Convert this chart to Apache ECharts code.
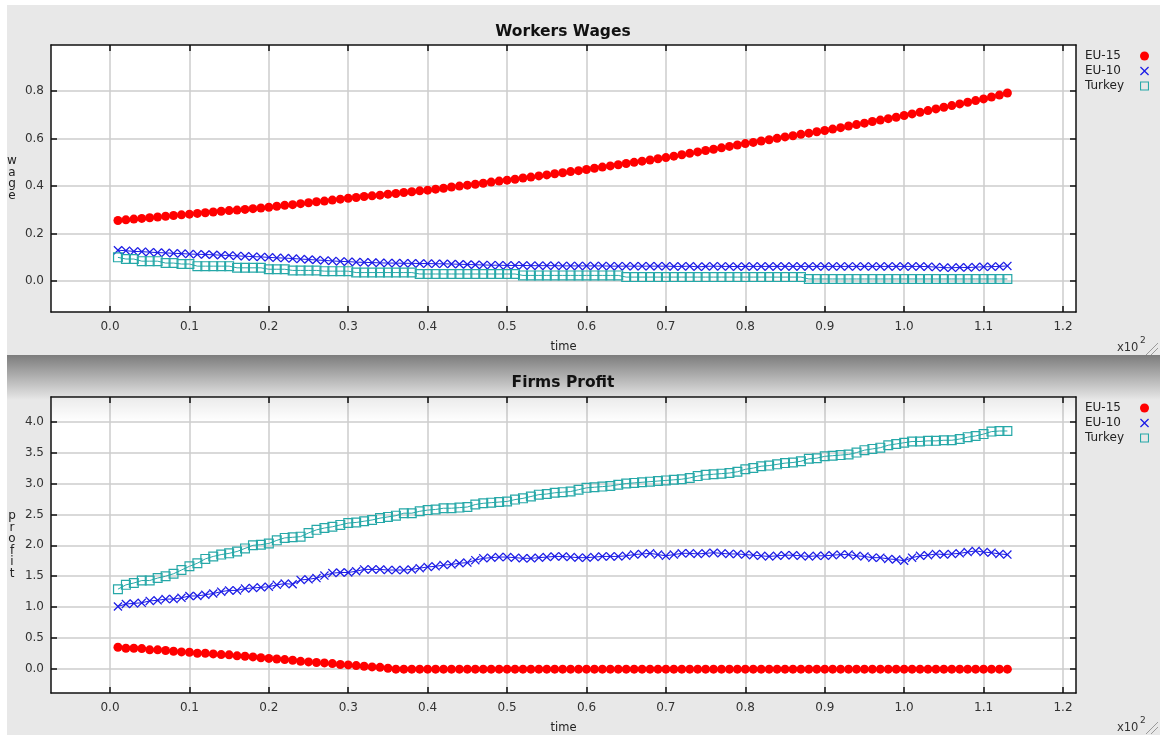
<!DOCTYPE html>
<html>
<head>
<meta charset="utf-8">
<title>Workers Wages / Firms Profit</title>
<script src="https://cdn.jsdelivr.net/npm/echarts@6/dist/echarts.min.js"></script>
<style>
  html, body { margin: 0; padding: 0; background: #fff; }
  #main { width: 1160px; height: 735px; }
</style>
</head>
<body>
<div id="main"></div>
<script>
// time steps 1..113, shown on the axis in units of 10^2
var time = [];
for (var t = 1; t <= 113; t++) time.push(t);

var seriesNames = ['EU-15', 'EU-10', 'Turkey'];
var xTicks = [0, 0.1, 0.2, 0.3, 0.4, 0.5, 0.6, 0.7, 0.8, 0.9, 1.0, 1.1, 1.2];
var wageTicks = [0, 0.2, 0.4, 0.6, 0.8];
var profitTicks = [0, 0.5, 1.0, 1.5, 2.0, 2.5, 3.0, 3.5, 4.0];

// Workers Wages
var wageEU15 = [
  0.255,0.258,0.261,0.264,0.267,0.270,0.273,0.276,0.279,0.282,
  0.285,0.288,0.291,0.294,0.297,0.299,0.302,0.305,0.308,0.311,
  0.315,0.319,0.322,0.326,0.330,0.334,0.337,0.341,0.345,0.349,
  0.352,0.356,0.359,0.362,0.366,0.369,0.373,0.376,0.380,0.383,
  0.387,0.391,0.396,0.400,0.404,0.408,0.412,0.417,0.421,0.425,
  0.429,0.434,0.438,0.443,0.447,0.452,0.456,0.461,0.465,0.470,
  0.475,0.480,0.485,0.490,0.495,0.500,0.505,0.510,0.515,0.520,
  0.526,0.532,0.538,0.544,0.550,0.555,0.561,0.567,0.573,0.579,
  0.584,0.590,0.595,0.601,0.607,0.612,0.618,0.623,0.629,0.634,
  0.640,0.646,0.653,0.659,0.665,0.672,0.678,0.684,0.690,0.697,
  0.704,0.711,0.718,0.725,0.732,0.739,0.746,0.753,0.760,0.767,
  0.775,0.783,0.792
];
var wageEU10 = [
  0.130,0.128,0.125,0.124,0.122,0.120,0.119,0.117,0.116,0.114,
  0.113,0.112,0.111,0.109,0.108,0.106,0.105,0.103,0.102,0.100,
  0.098,0.097,0.095,0.093,0.091,0.089,0.087,0.085,0.083,0.082,
  0.080,0.079,0.078,0.077,0.076,0.076,0.075,0.075,0.074,0.074,
  0.073,0.073,0.072,0.071,0.070,0.069,0.068,0.067,0.067,0.066,
  0.066,0.066,0.065,0.065,0.065,0.065,0.064,0.064,0.064,0.064,
  0.064,0.064,0.063,0.063,0.063,0.063,0.063,0.063,0.063,0.063,
  0.062,0.062,0.063,0.060,0.062,0.063,0.062,0.062,0.061,0.062,
  0.062,0.062,0.062,0.062,0.062,0.062,0.062,0.062,0.062,0.062,
  0.062,0.062,0.062,0.062,0.062,0.062,0.062,0.062,0.062,0.062,
  0.062,0.062,0.061,0.059,0.057,0.056,0.058,0.057,0.059,0.060,
  0.061,0.062,0.064
];
var wageTurkey = [
  0.100,0.093,0.093,0.084,0.084,0.084,0.076,0.076,0.072,0.072,
  0.063,0.063,0.063,0.063,0.063,0.056,0.056,0.056,0.056,0.050,
  0.050,0.050,0.045,0.045,0.045,0.045,0.042,0.042,0.042,0.042,
  0.036,0.036,0.036,0.036,0.036,0.036,0.036,0.036,0.030,0.030,
  0.030,0.030,0.030,0.030,0.030,0.030,0.030,0.030,0.030,0.030,
  0.030,0.024,0.024,0.024,0.024,0.024,0.024,0.024,0.024,0.024,
  0.024,0.024,0.024,0.024,0.017,0.017,0.017,0.017,0.017,0.017,
  0.017,0.017,0.017,0.017,0.017,0.017,0.017,0.017,0.017,0.017,
  0.017,0.017,0.017,0.017,0.017,0.017,0.017,0.009,0.009,0.009,
  0.009,0.009,0.009,0.009,0.009,0.009,0.009,0.009,0.009,0.009,
  0.009,0.009,0.009,0.009,0.009,0.009,0.009,0.009,0.009,0.009,
  0.009,0.009,0.009
];

// Firms Profit
var profitEU15 = [
  0.351,0.335,0.335,0.329,0.308,0.308,0.297,0.286,0.275,0.270,
  0.254,0.254,0.243,0.232,0.227,0.211,0.205,0.194,0.180,0.170,
  0.160,0.151,0.140,0.122,0.113,0.103,0.097,0.086,0.072,0.065,
  0.054,0.043,0.032,0.025,0.011,-0.004,-0.004,-0.004,-0.004,-0.004,
  -0.004,-0.004,-0.004,-0.004,-0.004,-0.004,-0.004,-0.004,-0.004,-0.004,
  -0.004,-0.004,-0.004,-0.004,-0.004,-0.004,-0.004,-0.004,-0.004,-0.004,
  -0.004,-0.004,-0.004,-0.004,-0.004,-0.004,-0.004,-0.004,-0.004,-0.004,
  -0.004,-0.004,-0.004,-0.004,-0.004,-0.004,-0.004,-0.004,-0.004,-0.004,
  -0.004,-0.004,-0.004,-0.004,-0.004,-0.004,-0.004,-0.004,-0.004,-0.004,
  -0.004,-0.004,-0.004,-0.004,-0.004,-0.004,-0.004,-0.004,-0.004,-0.004,
  -0.004,-0.004,-0.004,-0.004,-0.004,-0.004,-0.004,-0.004,-0.004,-0.004,
  -0.004,-0.004,-0.004
];
var profitEU10 = [
  1.01,1.05,1.06,1.07,1.10,1.11,1.13,1.13,1.15,1.18,
  1.18,1.20,1.22,1.25,1.27,1.27,1.30,1.31,1.32,1.33,
  1.36,1.38,1.37,1.44,1.45,1.47,1.51,1.55,1.56,1.56,
  1.58,1.61,1.61,1.61,1.60,1.60,1.60,1.61,1.63,1.65,
  1.66,1.68,1.69,1.71,1.72,1.76,1.79,1.80,1.81,1.81,
  1.80,1.79,1.79,1.80,1.81,1.82,1.82,1.81,1.80,1.80,
  1.81,1.82,1.82,1.82,1.83,1.85,1.86,1.87,1.85,1.83,
  1.85,1.87,1.87,1.86,1.87,1.88,1.87,1.86,1.86,1.85,
  1.84,1.83,1.82,1.83,1.84,1.84,1.83,1.82,1.83,1.83,
  1.84,1.85,1.85,1.83,1.82,1.80,1.80,1.78,1.77,1.75,
  1.80,1.83,1.84,1.86,1.85,1.86,1.87,1.89,1.91,1.89,
  1.88,1.86,1.85
];
var profitTurkey = [
  1.29,1.36,1.39,1.43,1.43,1.47,1.50,1.54,1.60,1.66,
  1.71,1.78,1.82,1.85,1.87,1.90,1.95,2.00,2.01,2.03,
  2.08,2.12,2.13,2.14,2.20,2.25,2.28,2.30,2.33,2.36,
  2.37,2.39,2.41,2.44,2.46,2.48,2.52,2.52,2.55,2.57,
  2.58,2.60,2.60,2.61,2.62,2.66,2.68,2.69,2.70,2.71,
  2.74,2.76,2.79,2.82,2.83,2.85,2.86,2.87,2.90,2.93,
  2.94,2.95,2.96,2.98,3.00,3.01,3.02,3.03,3.04,3.05,
  3.06,3.07,3.09,3.12,3.14,3.15,3.16,3.17,3.19,3.23,
  3.25,3.28,3.29,3.31,3.33,3.34,3.36,3.40,3.41,3.44,
  3.45,3.46,3.47,3.50,3.54,3.56,3.58,3.62,3.64,3.66,
  3.68,3.68,3.69,3.69,3.70,3.70,3.72,3.75,3.77,3.80,
  3.84,3.85,3.85
];

var font = 'DejaVu Sans';
var colEU15 = '#ff0000', colEU10 = '#1c1ce6', colTurkey = '#26a8a8';
var xSymbol = 'path://M0,1L1,0L5,4L9,0L10,1L6,5L10,9L9,10L5,6L1,10L0,9L4,5Z';
var sqSymbol = 'path://M0,0H10V10H0Z M1.2,1.2V8.8H8.8V1.2Z';

function pairs(vals) {
  return vals.map(function (v, i) { return [time[i] / 100, v]; });
}

function xAxisFor(g, pos) {
  var main = pos === 'bottom';
  return {
    type: 'value', gridIndex: g, position: pos,
    min: -0.0743, max: 1.2164,
    name: main ? 'time' : '', nameLocation: 'middle', nameGap: 29,
    nameTextStyle: { fontFamily: font, fontSize: 11.5, color: '#222' },
    axisLine: { show: true, onZero: false, lineStyle: { color: '#111', width: 1.5 } },
    axisTick: { show: true, inside: true, length: 6, customValues: xTicks, lineStyle: { color: '#111', width: 1.5 } },
    axisLabel: { show: main, customValues: xTicks, margin: 9, fontFamily: font, fontSize: 12, color: '#333',
      formatter: function (v) { return v.toFixed(1); } },
    splitLine: { show: main, lineStyle: { color: '#cdcdcd', width: 1.5 } }
  };
}

function yAxisFor(g, pos, min, max, ticks, name) {
  var main = pos === 'left';
  return {
    type: 'value', gridIndex: g, position: pos, min: min, max: max,
    name: main ? name.split('').join('\n') : '', nameLocation: 'middle', nameRotate: 0, nameGap: 39,
    nameTextStyle: { fontFamily: font, fontSize: 12, color: '#222', lineHeight: 11.5, align: 'center', verticalAlign: 'middle' },
    axisLine: { show: true, onZero: false, lineStyle: { color: '#111', width: 1.5 } },
    axisTick: { show: true, inside: true, length: 6, customValues: ticks, lineStyle: { color: '#111', width: 1.5 } },
    axisLabel: { show: main, customValues: ticks, margin: 7, fontFamily: font, fontSize: 12, color: '#333',
      formatter: function (v) { return v.toFixed(1); } },
    splitLine: { show: main, lineStyle: { color: '#cdcdcd', width: 1.5 } }
  };
}

function seriesFor(g, e15, e10, tur) {
  return [
    { name: 'EU-15', type: 'line', xAxisIndex: g * 2, yAxisIndex: g * 2, data: pairs(e15),
      symbol: 'circle', symbolSize: 9, itemStyle: { color: colEU15 }, lineStyle: { width: 1, color: colEU15 } },
    { name: 'EU-10', type: 'line', xAxisIndex: g * 2, yAxisIndex: g * 2, data: pairs(e10),
      symbol: xSymbol, symbolSize: 9, itemStyle: { color: colEU10 }, lineStyle: { width: 1, color: colEU10 } },
    { name: 'Turkey', type: 'line', xAxisIndex: g * 2, yAxisIndex: g * 2, data: pairs(tur),
      symbol: sqSymbol, symbolSize: 10, itemStyle: { color: colTurkey }, lineStyle: { width: 1, color: colTurkey } }
  ];
}

function legendAt(top) {
  return {
    top: top, left: 1085, orient: 'vertical', align: 'right',
    itemWidth: 9, itemHeight: 9, itemGap: 3, padding: 0, selectedMode: false,
    data: [
      { name: seriesNames[0], icon: 'circle' },
      { name: seriesNames[1], icon: xSymbol },
      { name: seriesNames[2], icon: sqSymbol }
    ],
    formatter: function (n) { return '{n|' + n + '}'; },
    textStyle: { rich: { n: { width: 50, align: 'left', fontFamily: font, fontSize: 12, lineHeight: 12, color: '#222' } } }
  };
}

function grip(x, y) {
  return [
    { type: 'line', shape: { x1: x, y1: y, x2: x + 12, y2: y - 12 }, style: { stroke: '#9a9a9a', lineWidth: 1 }, silent: true },
    { type: 'line', shape: { x1: x + 5, y1: y, x2: x + 12, y2: y - 7 }, style: { stroke: '#9a9a9a', lineWidth: 1 }, silent: true }
  ];
}

var chart = echarts.init(document.getElementById('main'));
var option = {
  backgroundColor: '#ffffff',
  animation: false,
  title: [
    { text: 'Workers Wages', left: 563, top: 24, textAlign: 'center', padding: 0,
      textStyle: { fontFamily: font, fontSize: 15.5, fontWeight: 'bold', color: '#111' } },
    { text: 'Firms Profit', left: 563, top: 375, textAlign: 'center', padding: 0,
      textStyle: { fontFamily: font, fontSize: 15.5, fontWeight: 'bold', color: '#111' } }
  ],
  legend: [legendAt(50), legendAt(402)],
  grid: [
    { left: 51, top: 45, width: 1025, height: 267, show: true, backgroundColor: '#fff', borderWidth: 0 },
    { left: 51, top: 397, width: 1025, height: 296, show: true, backgroundColor: '#fff', borderWidth: 0 }
  ],
  xAxis: [xAxisFor(0, 'bottom'), xAxisFor(0, 'top'), xAxisFor(1, 'bottom'), xAxisFor(1, 'top')],
  yAxis: [
    yAxisFor(0, 'left', -0.13, 0.994, wageTicks, 'wage'),
    yAxisFor(0, 'right', -0.13, 0.994, wageTicks, ''),
    yAxisFor(1, 'left', -0.39, 4.40, profitTicks, 'profit'),
    yAxisFor(1, 'right', -0.39, 4.40, profitTicks, '')
  ],
  series: seriesFor(0, wageEU15, wageEU10, wageTurkey).concat(seriesFor(1, profitEU15, profitEU10, profitTurkey)),
  graphic: [
    { type: 'rect', z: -10, silent: true, shape: { x: 7, y: 5, width: 1153, height: 730 }, style: { fill: '#e8e8e8' } },
    { type: 'rect', z: -9, silent: true, shape: { x: 7, y: 355, width: 1153, height: 45 },
      style: { fill: new echarts.graphic.LinearGradient(0, 0, 0, 1, [
        { offset: 0, color: '#7c7c7c' }, { offset: 1, color: '#e8e8e8' }]) } },
    { type: 'rect', z: 1, silent: true, shape: { x: 52, y: 398, width: 1023, height: 24 },
      style: { fill: new echarts.graphic.LinearGradient(0, 0, 0, 1, [
        { offset: 0, color: 'rgba(0,0,0,0.08)' }, { offset: 1, color: 'rgba(0,0,0,0)' }]) } },
    { type: 'text', x: 1117, y: 342, style: { text: 'x10', fontFamily: font, fontSize: 11.5, fill: '#333' } },
    { type: 'text', x: 1140, y: 336, style: { text: '2', fontFamily: font, fontSize: 9, fill: '#333' } },
    { type: 'text', x: 1117, y: 722, style: { text: 'x10', fontFamily: font, fontSize: 11.5, fill: '#333' } },
    { type: 'text', x: 1140, y: 716, style: { text: '2', fontFamily: font, fontSize: 9, fill: '#333' } }
  ].concat(grip(1146, 355), grip(1146, 734))
};
chart.setOption(option);
</script>
</body>
</html>
